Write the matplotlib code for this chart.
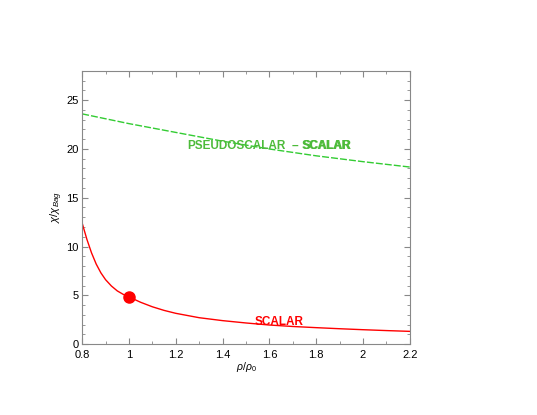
import matplotlib
matplotlib.use("Agg")
import matplotlib.pyplot as plt
from matplotlib.ticker import MultipleLocator, FuncFormatter

plt.rcParams['font.family'] = ['Liberation Sans', 'DejaVu Sans']
plt.rcParams['mathtext.fontset'] = 'custom'
plt.rcParams['mathtext.rm'] = 'Liberation Sans'
plt.rcParams['mathtext.it'] = 'Liberation Sans:italic'

# curves
rho_scalar = [0.80, 0.82, 0.84, 0.86, 0.88, 0.90, 0.925, 0.95, 0.975, 1.00,
              1.05, 1.10, 1.15, 1.20, 1.30, 1.40, 1.50, 1.60, 1.70, 1.80,
              1.90, 2.00, 2.10, 2.20]
chi_scalar = [12.4, 10.75, 9.35, 8.2, 7.3, 6.6, 5.95, 5.45, 5.1, 4.83,
              4.28, 3.82, 3.45, 3.15, 2.70, 2.40, 2.16, 1.95, 1.80, 1.68,
              1.57, 1.47, 1.38, 1.30]

rho_pseudo = [0.80, 1.00, 1.20, 1.40, 1.60, 1.80, 2.00, 2.20]
chi_pseudo = [23.6, 22.6, 21.7, 20.8, 20.0, 19.3, 18.7, 18.15]

point_rho = [1.0]
point_chi = [4.83]

red = '#ff0000'
green_line = '#33cc33'
green_text = '#4dbb3a'
grey = '#888888'

fig = plt.figure(figsize=(5.37, 4.15), dpi=100)
ax = fig.add_axes([0.153, 0.171, 0.610, 0.658])

ax.plot(rho_scalar, chi_scalar, color=red, lw=1.0)
ax.plot(point_rho, point_chi, 'o', color=red, ms=8)
ax.plot(rho_pseudo, chi_pseudo, color=green_line, lw=1.0, dashes=(5, 1.5))

ax.text(1.535, 2.0, 'SCALAR', color=red, fontsize=8.5, fontweight='bold')
ax.text(1.249, 20.0, 'PSEUDOSCALAR', color=green_text, fontsize=8.5, fontweight='bold')
ax.text(1.695, 20.0, '\u2013', color=green_text, fontsize=8.5, fontweight='bold')
for dx in (0.0, 0.004):
    ax.text(1.738 + dx, 20.0, 'SCALAR', color=green_text, fontsize=8.5,
            fontweight='bold')

ax.set_xlim(0.8, 2.2)
ax.set_ylim(0, 28)
ax.xaxis.set_major_locator(MultipleLocator(0.2))
ax.xaxis.set_minor_locator(MultipleLocator(0.1))
ax.yaxis.set_major_locator(MultipleLocator(5))
ax.yaxis.set_minor_locator(MultipleLocator(1))
ax.xaxis.set_major_formatter(FuncFormatter(lambda v, p: '%g' % round(v, 2)))

ax.tick_params(which='both', direction='in', top=True, right=True,
               color=grey, labelsize=8)
ax.tick_params(axis='x', pad=4.5)
ax.tick_params(axis='y', pad=2.5)
ax.tick_params(which='major', length=4)
ax.tick_params(which='minor', length=2)
for s in ax.spines.values():
    s.set_color(grey)
    s.set_linewidth(0.8)

ax.set_xlabel(r'$\rho/\rho_0$', fontsize=7.5, labelpad=0)
ax.set_ylabel(r'$\chi/\chi_{Bag}$', fontsize=8, labelpad=1)

fig.savefig('out.png', dpi=100)
